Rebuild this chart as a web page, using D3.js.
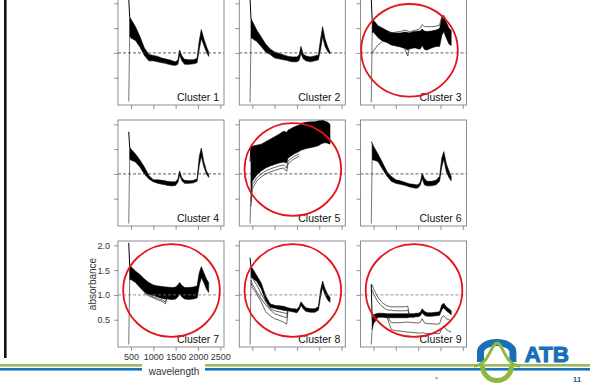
<!DOCTYPE html>
<html>
<head>
<meta charset="utf-8">
<script src="https://cdnjs.cloudflare.com/ajax/libs/d3/7.8.5/d3.min.js"></script>
<style>
  body { margin: 0; background: #fff; }
  text { font-family: "Liberation Sans", Arial, sans-serif; }
</style>
</head>
<body>
<script>
// wavelength grid (nm) shared by every cluster
var wavelength = [470, 500, 600, 700, 800, 900, 1000, 1100, 1200, 1270, 1300, 1400, 1450, 1500, 1550, 1590, 1640, 1700, 1800, 1900, 1980, 2030, 2075, 2130, 2190, 2240];

// upper / lower edge of the dense bundle of spectra per cluster
var hi1 = [1.73, 1.68, 1.53, 1.33, 1.10, 0.97, 0.95, 0.93, 0.89, 0.88, 0.87, 0.85, 0.83, 0.82, 0.86, 1.06, 0.94, 0.87, 0.86, 0.86, 0.89, 1.25, 1.47, 1.29, 1.13, 1.02];
var lo1 = [1.33, 1.30, 1.25, 1.12, 0.95, 0.84, 0.84, 0.82, 0.80, 0.79, 0.78, 0.76, 0.75, 0.75, 0.77, 0.96, 0.84, 0.77, 0.77, 0.78, 0.80, 1.08, 1.29, 1.16, 1.02, 0.93];
var hi2 = [1.70, 1.64, 1.46, 1.32, 1.18, 1.08, 1.02, 0.99, 0.96, 0.94, 0.93, 0.92, 0.92, 0.92, 0.96, 1.13, 0.98, 0.94, 0.92, 0.94, 0.96, 1.28, 1.53, 1.28, 1.12, 1.02];
var lo2 = [1.30, 1.29, 1.23, 1.13, 1.02, 0.97, 0.90, 0.88, 0.86, 0.85, 0.84, 0.82, 0.82, 0.82, 0.85, 0.99, 0.88, 0.84, 0.82, 0.84, 0.86, 1.08, 1.33, 1.13, 1.03, 0.98];
var hi3 = [1.68, 1.66, 1.55, 1.50, 1.45, 1.41, 1.40, 1.40, 1.42, 1.41, 1.40, 1.43, 1.43, 1.44, 1.44, 1.48, 1.44, 1.43, 1.44, 1.46, 1.49, 1.70, 1.73, 1.62, 1.50, 1.45];
var lo3 = [1.40, 1.42, 1.31, 1.24, 1.21, 1.16, 1.14, 1.12, 1.09, 1.06, 1.08, 1.10, 1.10, 1.08, 1.08, 1.15, 1.07, 1.06, 1.10, 1.13, 1.13, 1.35, 1.43, 1.30, 1.18, 1.15];
var hi4 = [1.54, 1.50, 1.40, 1.28, 1.14, 0.97, 0.88, 0.88, 0.87, 0.86, 0.85, 0.84, 0.84, 0.84, 0.90, 1.06, 0.92, 0.87, 0.86, 0.87, 0.90, 1.35, 1.52, 1.25, 1.06, 0.98];
var lo4 = [1.29, 1.28, 1.24, 1.14, 1.00, 0.90, 0.84, 0.81, 0.79, 0.78, 0.77, 0.76, 0.76, 0.77, 0.83, 0.98, 0.86, 0.81, 0.81, 0.82, 0.85, 1.18, 1.36, 1.15, 1.00, 0.93];
var hi5 = [1.55, 1.56, 1.58, 1.60, 1.65, 1.70, 1.75, 1.80, 1.86, 1.84, 1.88, 1.93, 1.95, 1.97, 1.98, 2.02, 2.03, 2.04, 2.05, 2.05, 2.07, 2.08, 2.09, 2.06, 2.04, 2.00];
var lo5 = [0.60, 0.85, 0.98, 1.06, 1.12, 1.16, 1.19, 1.22, 1.24, 1.22, 1.32, 1.38, 1.41, 1.43, 1.45, 1.48, 1.49, 1.51, 1.53, 1.55, 1.57, 1.60, 1.62, 1.63, 1.62, 1.60];
var hi6 = [1.62, 1.56, 1.40, 1.23, 1.05, 0.95, 0.88, 0.86, 0.83, 0.81, 0.80, 0.79, 0.78, 0.78, 0.84, 1.01, 0.91, 0.85, 0.85, 0.87, 0.95, 1.32, 1.45, 1.21, 1.06, 0.95];
var lo6 = [1.28, 1.28, 1.25, 1.10, 0.96, 0.85, 0.81, 0.79, 0.77, 0.75, 0.74, 0.72, 0.71, 0.72, 0.78, 0.91, 0.78, 0.76, 0.76, 0.78, 0.85, 1.15, 1.30, 1.05, 0.93, 0.86];
var hi7 = [1.60, 1.57, 1.48, 1.41, 1.32, 1.25, 1.20, 1.18, 1.17, 1.16, 1.16, 1.15, 1.15, 1.16, 1.20, 1.25, 1.19, 1.15, 1.15, 1.16, 1.18, 1.45, 1.57, 1.45, 1.32, 1.25];
var lo7 = [1.30, 1.31, 1.25, 1.15, 1.06, 1.01, 0.99, 0.96, 0.93, 0.92, 0.92, 0.91, 0.91, 0.92, 0.96, 1.02, 0.96, 0.92, 0.91, 0.92, 0.94, 1.20, 1.35, 1.25, 1.12, 1.05];
var hi8 = [1.57, 1.54, 1.39, 1.24, 0.98, 0.82, 0.79, 0.78, 0.77, 0.75, 0.74, 0.72, 0.72, 0.71, 0.76, 0.86, 0.80, 0.74, 0.72, 0.72, 0.76, 1.10, 1.28, 1.12, 1.01, 0.95];
var lo8 = [1.36, 1.34, 1.27, 1.12, 0.88, 0.75, 0.73, 0.71, 0.69, 0.68, 0.68, 0.66, 0.65, 0.64, 0.70, 0.79, 0.72, 0.67, 0.65, 0.65, 0.69, 0.97, 1.15, 1.00, 0.90, 0.85];
var hi9 = [0.50, 0.60, 0.63, 0.63, 0.62, 0.62, 0.62, 0.62, 0.62, 0.62, 0.62, 0.62, 0.63, 0.63, 0.65, 0.72, 0.67, 0.64, 0.64, 0.65, 0.66, 0.80, 0.83, 0.76, 0.72, 0.68];
var lo9 = [0.30, 0.42, 0.55, 0.55, 0.54, 0.54, 0.54, 0.54, 0.54, 0.54, 0.55, 0.55, 0.56, 0.56, 0.58, 0.64, 0.59, 0.57, 0.57, 0.58, 0.59, 0.70, 0.74, 0.68, 0.64, 0.60];

// single spectra that stray from the bundle (null = hidden in the bundle)
var n = null;
var p3a = [n, n, n, n, 1.40, 1.40, 1.42, 1.43, 1.46, 1.44, 1.42, 1.45, 1.46, 1.47, 1.50, 1.57, 1.53, 1.53, 1.53, 1.54, 1.56, 1.74, 1.76, 1.66, n, n];
var p3b = [0.99, 1.04, 1.16, 1.23, n, n, n, n, n, n, n, n, n, n, n, n, n, n, n, n, n, n, n, n, n, n];
var p3c = [n, n, n, n, n, n, n, n, 1.08, 0.94, 1.08, n, n, n, n, n, n, n, n, n, n, n, n, n, n, n];
var p5a = [0.45, 0.78, 0.92, 1.00, 1.06, 1.10, 1.13, 1.16, 1.18, 1.12, 1.26, 1.33, 1.36, 1.38, 1.40, n, n, n, n, n, n, n, n, n, n, n];
var p5b = [0.35, 0.70, 0.86, 0.94, 1.00, 1.04, 1.07, 1.10, 1.12, 1.05, 1.20, 1.28, 1.31, 1.33, 1.36, n, n, n, n, n, n, n, n, n, n, n];
var p7a = [n, n, n, n, 1.03, 0.98, 0.94, 0.90, 0.87, 0.82, 0.93, n, n, n, n, n, n, n, n, n, n, n, n, n, n, n];
var p7b = [n, n, n, n, 1.05, 1.00, 0.96, 0.93, 0.90, 0.86, 0.93, n, n, n, n, n, n, n, n, n, n, n, n, n, n, n];
var p8a = [1.30, 1.22, 1.06, 0.92, 0.80, 0.70, 0.62, 0.59, 0.56, 0.54, 0.70, n, n, n, n, n, n, n, n, n, n, n, n, n, n, n];
var p8b = [1.25, 1.15, 1.02, 0.86, 0.66, 0.58, 0.52, 0.49, 0.45, 0.41, 0.69, n, n, n, n, n, n, n, n, n, n, n, n, n, n, n];
var p8c = [1.40, 1.34, 1.20, 1.02, 0.86, 0.72, 0.68, 0.66, 0.64, 0.62, 0.70, n, n, n, n, n, n, n, n, n, n, n, n, n, n, n];
var p9a = [1.20, 1.12, 0.95, 0.84, 0.78, 0.76, 0.76, 0.76, 0.76, 0.77, 0.60, n, n, n, n, n, n, n, n, n, n, n, n, n, n, n];
var p9b = [1.10, 1.02, 0.86, 0.76, 0.70, 0.69, 0.68, 0.68, 0.68, 0.69, 0.60, n, n, n, n, n, n, n, n, n, n, n, n, n, n, n];
var p9c = [n, n, n, n, 0.58, 0.44, 0.44, 0.44, 0.45, 0.45, 0.45, 0.44, 0.44, 0.43, 0.45, 0.52, 0.44, 0.42, 0.42, 0.41, 0.42, 0.55, 0.58, 0.52, 0.50, 0.47];
var p9d = [n, n, n, n, 0.56, 0.30, 0.28, 0.27, 0.26, 0.25, 0.25, 0.24, 0.24, 0.23, 0.23, 0.24, 0.23, 0.22, 0.22, 0.22, 0.22, 0.32, 0.38, 0.30, 0.27, 0.25];

// noisy first reading at 450 nm (the vertical spike)
var spikeWave = 450;
var spikeTop = [2.10, 2.10, 2.10, 1.85, 1.25, 1.65, 2.05, 1.75, 1.22];
var spikeBottom = [0.02, 0.00, 0.00, 0.00, 0.00, 0.00, 0.00, 0.00, 0.00];

var xTicks = [500, 1000, 1500, 2000, 2500];
var yTicks = [0.5, 1.0, 1.5, 2.0];
var refLine = 1.0;
var clusterNames = ["Cluster 1", "Cluster 2", "Cluster 3", "Cluster 4", "Cluster 5", "Cluster 6", "Cluster 7", "Cluster 8", "Cluster 9"];
var circled = [3, 5, 7, 8, 9];

var bands = [[hi1, lo1], [hi2, lo2], [hi3, lo3], [hi4, lo4], [hi5, lo5], [hi6, lo6], [hi7, lo7], [hi8, lo8], [hi9, lo9]];
var strays = [[], [], [p3a, p3b, p3c], [], [p5a, p5b], [], [p7a, p7b], [p8a, p8b, p8c], [p9a, p9b, p9c, p9d]];

var svg = d3.select("body").append("svg")
    .attr("width", 590)
    .attr("height", 391);

// slide furniture
svg.append("rect").attr("x", 4).attr("y", 0).attr("width", 2.6).attr("height", 358).attr("fill", "#111");
svg.append("rect").attr("x", 0).attr("y", 364).attr("width", 590).attr("height", 2.6).attr("fill", "#9bbb59");
svg.append("rect").attr("x", 0).attr("y", 368).attr("width", 590).attr("height", 2.6).attr("fill", "#1b75bc");

var pw = 106, ph = 106,
    lefts = [118, 239.3, 360.5],
    tops = [-1, 120, 241];

var x = d3.scaleLinear().domain([209, 2583]).range([0, pw]),
    y = d3.scaleLinear().domain([-0.05, 2.087]).range([ph, 0]);

var area = d3.area()
    .defined(function(d) { return d.hi != null; })
    .x(function(d) { return x(d.w); })
    .y0(function(d) { return y(d.lo); })
    .y1(function(d) { return y(d.hi); });

var line = d3.line()
    .defined(function(d) { return d.v != null; })
    .x(function(d) { return x(d.w); })
    .y(function(d) { return y(d.v); });

// white box behind the x-axis title (it sits over the slide bands)
svg.append("rect").attr("x", 142).attr("y", 361).attr("width", 63).attr("height", 12).attr("fill", "#fff");

clusterNames.forEach(function(name, i) {
    var col = i % 3, row = Math.floor(i / 3);
    var g = svg.append("g").attr("transform", "translate(" + lefts[col] + "," + tops[row] + ")");

    g.append("clipPath").attr("id", "clip" + i)
      .append("rect").attr("width", pw).attr("height", ph);

    // ticks
    var xa = g.append("g")
        .attr("transform", "translate(0," + ph + ")")
        .call(d3.axisBottom(x).tickValues(xTicks).tickSize(4).tickSizeOuter(0).tickPadding(3).tickFormat(d3.format("d")));
    var ya = g.append("g")
        .call(d3.axisLeft(y).tickValues(yTicks).tickSize(4).tickSizeOuter(0).tickPadding(4).tickFormat(d3.format(".1f")));
    [xa, ya].forEach(function(a) {
        a.select(".domain").remove();
        a.selectAll("line").attr("stroke", "#777").attr("stroke-width", 0.8);
        a.selectAll("text").attr("fill", "#333").style("font-size", "9px");
    });
    if (i !== 6) {
        xa.selectAll("text").remove();
        ya.selectAll("text").remove();
    }

    var plot = g.append("g").attr("clip-path", "url(#clip" + i + ")");

    var hi = bands[i][0], lo = bands[i][1];
    var pts = wavelength.map(function(w, k) { return {w: w, hi: hi[k], lo: lo[k]}; });

    plot.append("path").datum(pts)
        .attr("d", area)
        .attr("fill", "#000")
        .attr("stroke", "#000")
        .attr("stroke-width", 0.6);

    // the spike at the first wavelength
    plot.append("path")
        .datum([{w: spikeWave, v: spikeTop[i]}, {w: wavelength[0], v: hi[0]}])
        .attr("d", line).attr("fill", "none").attr("stroke", "#000").attr("stroke-width", 1);
    plot.append("path")
        .datum([{w: spikeWave, v: spikeBottom[i]}, {w: wavelength[0], v: lo[0]}])
        .attr("d", line).attr("fill", "none").attr("stroke", "#666").attr("stroke-width", 0.9);

    strays[i].forEach(function(s) {
        plot.append("path")
            .datum(wavelength.map(function(w, k) { return {w: w, v: s[k]}; }))
            .attr("d", line)
            .attr("fill", "none")
            .attr("stroke", "#222")
            .attr("stroke-width", 0.7);
    });

    // dashed reference at absorbance 1
    g.append("line")
        .attr("x1", 0).attr("x2", pw)
        .attr("y1", y(refLine)).attr("y2", y(refLine))
        .attr("stroke", row === 2 ? "#777" : "#333")
        .attr("stroke-width", 0.8)
        .attr("stroke-dasharray", "3,2");

    g.append("rect")
        .attr("width", pw).attr("height", ph)
        .attr("fill", "none")
        .attr("stroke", "#808080")
        .attr("stroke-width", 0.9);

    g.append("text")
        .attr("x", pw - 5).attr("y", ph - 3.7)
        .attr("text-anchor", "end")
        .style("font-size", "10.5px")
        .attr("fill", "#111")
        .text(name);

    if (circled.indexOf(i + 1) >= 0) {
        var shift = (i === 2) ? [-4.5, 1.8] : [0, 0];
        g.append("ellipse")
            .attr("cx", 53.5 + shift[0]).attr("cy", 49.5 + shift[1])
            .attr("rx", 48.3).attr("ry", 46.3)
            .attr("fill", "none")
            .attr("stroke", "#e3141c")
            .attr("stroke-width", 1.8);
    }
});

// axis titles
svg.append("text")
    .attr("x", 174).attr("y", 374.5)
    .attr("text-anchor", "middle")
    .style("font-size", "10px")
    .attr("fill", "#333")
    .text("wavelength");
svg.append("text")
    .attr("transform", "translate(95.5,284) rotate(-90)")
    .attr("text-anchor", "middle")
    .style("font-size", "10px")
    .attr("fill", "#333")
    .text("absorbance");

// ATB logo
var logo = svg.append("g");
logo.append("path")
    .attr("d", "M480.5,362 L480.5,352 A16.2,9.5 0 0 1 512.9,352 L512.9,362")
    .attr("fill", "none").attr("stroke", "#1b6fb8").attr("stroke-width", 7);
logo.append("path")
    .attr("d", "M482.5,366 A14.5,14.5 0 0 0 511.5,366")
    .attr("fill", "none").attr("stroke", "#8cb83c").attr("stroke-width", 5);
logo.append("path")
    .attr("d", "M474,366 C489,366 491,343 497,343 C503,343 505,366 520,366")
    .attr("fill", "none").attr("stroke", "#8cb83c").attr("stroke-width", 3);
logo.append("text")
    .attr("x", 524.5).attr("y", 361.7)
    .style("font-size", "22.5px").style("font-weight", "bold")
    .attr("fill", "#1b6fb8")
    .attr("stroke", "#1b6fb8")
    .attr("stroke-width", 1)
    .text("ATB");

svg.append("rect").attr("x", 435.5).attr("y", 377).attr("width", 2.2).attr("height", 2.2).attr("fill", "#9bbb59");
svg.append("text")
    .attr("x", 577).attr("y", 382)
    .attr("text-anchor", "middle")
    .style("font-size", "8px").style("font-weight", "bold")
    .attr("fill", "#2a5f94")
    .text("11");
</script>
</body>
</html>
